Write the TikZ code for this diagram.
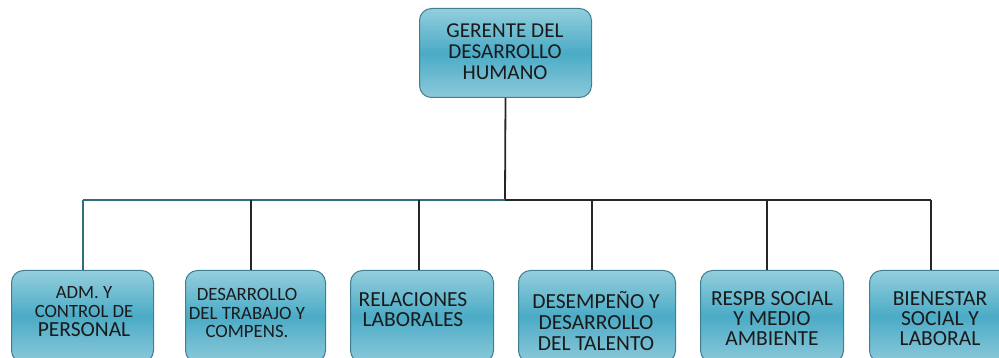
\documentclass[tikz,border=0pt]{standalone}
\usepackage{fontspec}
\setmainfont{Carlito}
\definecolor{boxedge}{HTML}{3E7F90}
\definecolor{gtop}{HTML}{93CEDD}
\definecolor{gmid}{HTML}{4BABC6}
\definecolor{gbot}{HTML}{8DC9DA}
\definecolor{txtc}{HTML}{1A1A1A}
\definecolor{tealline}{HTML}{2F6E7F}
\begin{document}
\begin{tikzpicture}[x=1pt,y=-1pt,
  box/.style={draw=boxedge, line width=1pt, rounded corners=12pt,
    top color=gtop, bottom color=gbot, middle color=gmid,
    anchor=north west, inner sep=0pt},
  txt/.style={text=txtc, align=center, inner sep=0pt},
  blk/.style={draw=black!85, line width=1.8pt},
  tl/.style={draw=tealline, line width=1.8pt}]
\useasboundingbox (0,0) rectangle (999,358);
% boxes
\node[box, minimum width=172pt, minimum height=89pt] (top) at (419,8) {};
\node[box, minimum width=142pt, minimum height=92pt] (b1) at (11,270) {};
\node[box, minimum width=140pt, minimum height=92pt] (b2) at (185,270) {};
\node[box, minimum width=143pt, minimum height=92pt] (b3) at (350,270) {};
\node[box, minimum width=157pt, minimum height=92pt] (b4) at (518,270) {};
\node[box, minimum width=143pt, minimum height=92pt] (b5) at (700,270) {};
\node[box, minimum width=142pt, minimum height=92pt] (b6) at (869,270) {};
% texts
\node[txt, font=\fontsize{21.2}{21}\selectfont] (t0) at (505,52) {GERENTE DEL\\DESARROLLO\\HUMANO};
\node[txt, font=\fontsize{18.7}{19}\selectfont] (t1) at (84,312) {ADM. Y\\CONTROL DE\\{\fontsize{21.5}{19}\selectfont PERSONAL}};
\node[txt, font=\fontsize{18.8}{18.5}\selectfont] (t2) at (247,313) {DESARROLLO\\DEL TRABAJO Y\\COMPENS.};
\node[txt, font=\fontsize{21.5}{20}\selectfont] (t3) at (413,310) {RELACIONES\\LABORALES};
\node[txt, font=\fontsize{21.5}{21}\selectfont] (t4) at (596,321) {DESEMPEÑO Y\\DESARROLLO\\DEL TALENTO};
\node[txt, font=\fontsize{21.5}{20}\selectfont] (t5) at (772,319) {RESPB SOCIAL\\Y MEDIO\\AMBIENTE};
\node[txt, font=\fontsize{21.5}{20}\selectfont] (t6) at (940,319) {BIENESTAR\\SOCIAL Y\\LABORAL};
% connector points
\coordinate (j) at (505,200);
\coordinate (v1) at (83,200);
\coordinate (v2) at (251,200);
\coordinate (v3) at (419,200);
\coordinate (v4) at (592,200);
\coordinate (v5) at (767,200);
\coordinate (v6) at (931,200);
\draw[blk] (top.south) -- (j);
\draw[tl] (v1) -- (j);
\draw[blk] (j) -- (v6);
\draw[tl] (v1) -- (v1 |- b1.north);
\draw[blk] (v2) -- (v2 |- b2.north);
\draw[blk] (v3) -- (v3 |- b3.north);
\draw[blk] (v4) -- (v4 |- b4.north);
\draw[blk] (v5) -- (v5 |- b5.north);
\draw[blk] (v6) -- (v6 |- b6.north);
\end{tikzpicture}
\end{document}
